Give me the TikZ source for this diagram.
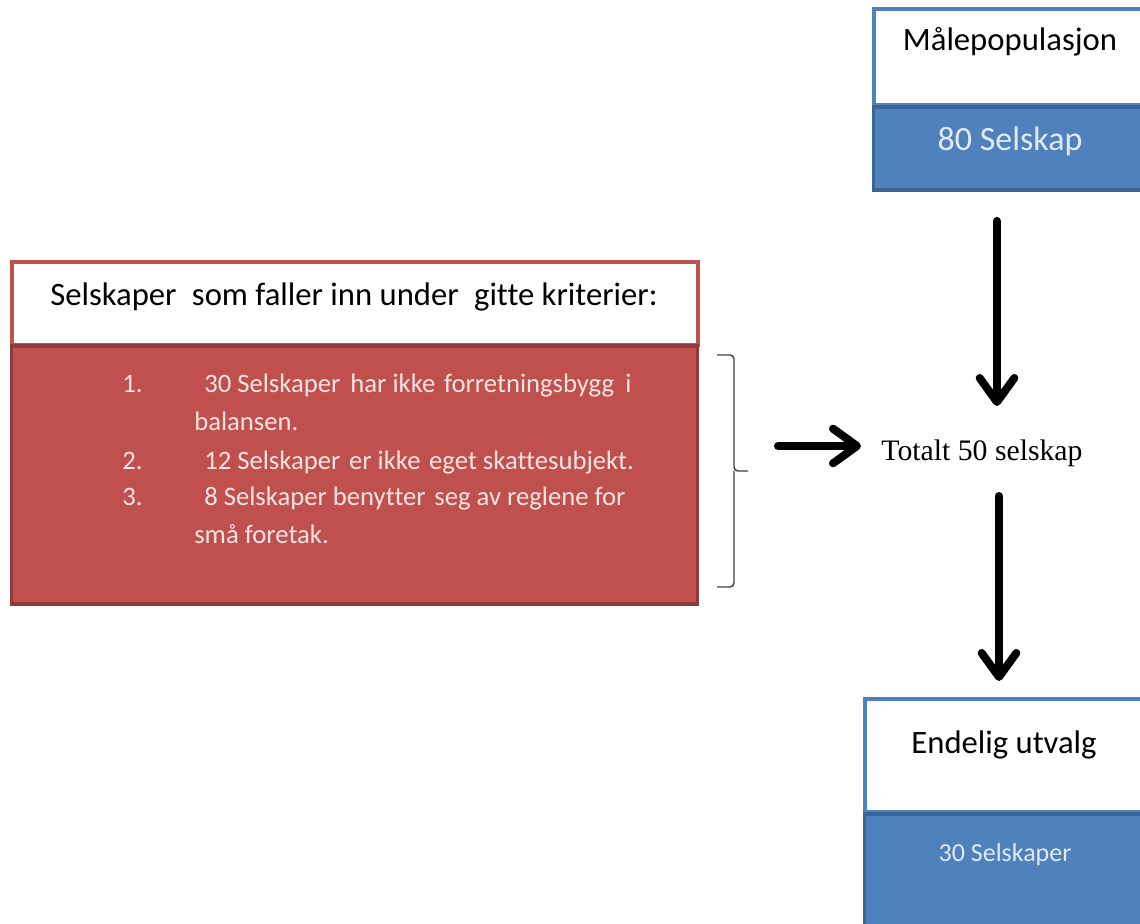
\documentclass[tikz,border=0pt]{standalone}
\usepackage{fontspec}
\setmainfont[Ligatures=NoCommon]{Carlito}
\newfontfamily\serifface{Liberation Serif}
\usetikzlibrary{arrows.meta}
\definecolor{accblue}{HTML}{4F81BD}
\definecolor{accbluedark}{HTML}{3A6494}
\definecolor{accred}{HTML}{C0504D}
\definecolor{accreddark}{HTML}{8E3B39}
\definecolor{bluetext}{HTML}{E1E9F4}
\definecolor{redtext}{HTML}{F6E4E3}
\definecolor{bracketgray}{HTML}{404040}

\begin{document}
\begin{tikzpicture}[x=0.75pt,y=-0.75pt,
  flowarrow/.style={line width=6pt, line cap=round,
    -{Straight Barb[length=18pt,width=26pt,round]}},
  headpart/.style={line width=3pt, fill=white},
  bodypart/.style={line width=2.5pt},
  titletext/.style={font=\fontsize{24.5}{28}\selectfont, text=black},
  listtext/.style={font=\fontsize{20}{24}\selectfont, text=redtext, anchor=base west, inner sep=0pt},
  bracketline/.style={draw=bracketgray, line width=1.1pt, rounded corners=3pt}]

\useasboundingbox (0,0) rectangle (1140,924);
\clip (0,0) rectangle (1140,924);

% Population box (top right)
\draw[headpart, draw=accblue] (873.5,9.5) rectangle (1160,105);
\draw[bodypart, draw=accbluedark, fill=accblue] (873.5,107) rectangle (1160,190);
\node[titletext] (mhead) at (1010,42) {Målepopulasjon};
\node[font=\fontsize{25.5}{28}\selectfont, text=bluetext] (mcount) at (1010,141) {80 Selskap};

% Criteria box (left)
\draw[headpart, draw=accred] (11.5,262) rectangle (697.5,345);
\draw[bodypart, draw=accreddark, fill=accred] (11.5,346) rectangle (697.5,604);
\node[titletext] (crit) at (354,297) {Selskaper\hspace{6pt} som faller inn under\hspace{6pt} gitte kriterier:};

\node[listtext] (n1) at (122,392) {1.};
\node[listtext] (t1a) at (204,392) {30 Selskaper\hspace{3pt} har ikke\hspace{2pt} forretningsbygg\hspace{4pt} i};
\node[listtext] (t1b) at (194,430) {balansen.};
\node[listtext] (n2) at (122,469) {2.};
\node[listtext] (t2) at (204,469) {12 Selskaper\hspace{2pt} er ikke\hspace{2pt} eget skattesubjekt.};
\node[listtext] (n3) at (122,505) {3.};
\node[listtext] (t3a) at (204,505) {8 Selskaper benytter\hspace{2pt} seg av reglene for};
\node[listtext] (t3b) at (194,543) {små foretak.};

% Bracket gathering the criteria
\coordinate (brtop) at (717,355);
\coordinate (brbot) at (717,587);
\coordinate (brtip) at (748,471);
\draw[bracketline] (brtop) -| (734,471) -- (brtip);
\draw[bracketline] (brbot) -| (734,471);

% Total
\node[font=\serifface\fontsize{22.3}{26}\selectfont] (total) at (982,453) {Totalt 50 selskap};

% Final selection box (bottom right)
\draw[headpart, draw=accblue] (864.5,698.5) rectangle (1160,812);
\draw[bodypart, draw=accbluedark, fill=accblue] (864.5,814) rectangle (1160,940);
\node[titletext] (ehead) at (1004,745) {Endelig utvalg};
\node[font=\fontsize{19.5}{24}\selectfont, text=bluetext] (ecount) at (1005,855) {30 Selskaper};

% Flow arrows
\coordinate (a1s) at (997,221);
\coordinate (a1e) at (997,406);
\coordinate (a2s) at (778,446);
\coordinate (a2e) at (861,446);
\coordinate (a3s) at (999,496);
\coordinate (a3e) at (999,681);
\draw[flowarrow] (a1s) -- (a1e);
\draw[flowarrow] (a2s) -- (a2e);
\draw[flowarrow] (a3s) -- (a3e);
\end{tikzpicture}
\end{document}
